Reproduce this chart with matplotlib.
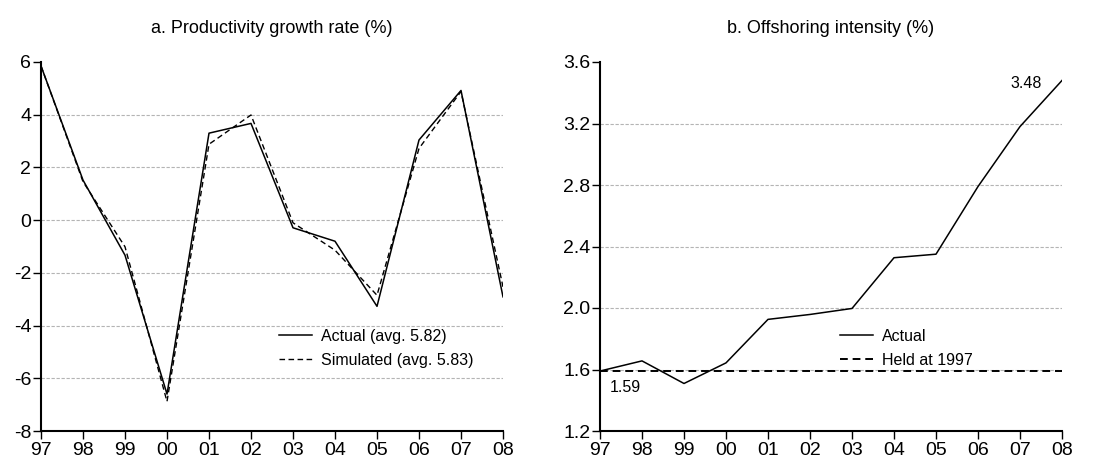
import numpy as np
from matplotlib import pyplot as plt

plt.rcParams['font.family'] = ['Liberation Sans', 'DejaVu Sans']

years = ['97', '98', '99', '00', '01', '02', '03', '04', '05', '06', '07', '08']

# panel a: productivity growth rate (%)
prod_actual = [5.85, 1.52, -1.33, -6.60, 3.30, 3.67, -0.29, -0.80, -3.27, 3.04, 4.92, -2.91]
prod_sim = [5.85, 1.46, -1.01, -6.88, 2.88, 3.99, -0.10, -1.14, -2.85, 2.72, 4.88, -2.53]

# panel b: offshoring intensity (%)
off_actual = [1.59, 1.656, 1.509, 1.643, 1.926, 1.958, 1.997, 2.327, 2.350, 2.790, 3.180, 3.48]
off_held = [1.59] * 12

x = np.arange(len(years))

fig = plt.figure(figsize=(11.03, 4.59), dpi=100)
ax1 = fig.add_axes([41/1103, 28/459, 462/1103, 369/459])
ax2 = fig.add_axes([600/1103, 28/459, 462/1103, 369/459])


def style_axis(ax, yticks, gridticks, ylim):
    ax.set_xlim(0, len(years) - 1)
    ax.set_ylim(*ylim)
    ax.set_xticks(x)
    ax.set_xticklabels(years)
    ax.set_yticks(yticks)
    for g in gridticks:
        ax.axhline(g, color='#b4b4b4', lw=0.8, ls=(0, (3, 1.5)), zorder=0)
    ax.spines['top'].set_visible(False)
    ax.spines['right'].set_visible(False)
    ax.spines['left'].set_linewidth(1.5)
    ax.spines['bottom'].set_linewidth(1.5)
    ax.tick_params(axis='both', direction='out', length=5.5, width=1, labelsize=14, colors='black')
    ax.tick_params(axis='x', pad=2.5)
    ax.tick_params(axis='y', pad=1.5)


legend_kw = dict(frameon=False, loc='upper left', fontsize=11.5, handlelength=2.1,
                 handletextpad=0.55, borderpad=0, borderaxespad=0, labelspacing=0.55)

ax1.plot(x, prod_actual, color='black', lw=1.1, label='Actual (avg. 5.82)')
ax1.plot(x, prod_sim, color='black', lw=1.0, ls=(0, (4, 2.5)), label='Simulated (avg. 5.83)')
style_axis(ax1, [-8, -6, -4, -2, 0, 2, 4, 6], [-6, -4, -2, 0, 2, 4], (-8, 6))
ax1.set_yticklabels(['-8', '-6', '-4', '-2', '0', '2', '4', '6'])
ax1.set_title('a. Productivity growth rate (%)', fontsize=13, pad=21)
ax1.legend(bbox_to_anchor=(0.515, 0.277), **legend_kw)

ax2.plot(x, off_actual, color='black', lw=1.1, label='Actual')
ax2.plot(x, off_held, color='black', lw=1.4, ls=(0, (4, 2.5)), label='Held at 1997')
style_axis(ax2, [1.2, 1.6, 2.0, 2.4, 2.8, 3.2, 3.6], [1.6, 2.0, 2.4, 2.8, 3.2], (1.2, 3.6))
ax2.set_yticklabels(['1.2', '1.6', '2.0', '2.4', '2.8', '3.2', '3.6'])
ax2.set_title('b. Offshoring intensity (%)', fontsize=13, pad=21)
ax2.legend(bbox_to_anchor=(0.519, 0.277), **legend_kw)
ax2.annotate('1.59', xy=(x[0], off_actual[0]), xytext=(7, -11.5), textcoords='offset points',
             fontsize=11.5, ha='left', va='center')
ax2.annotate('3.48', xy=(x[-1], off_actual[-1]), xytext=(-14.5, -2.5), textcoords='offset points',
             fontsize=11.5, ha='right', va='center')

fig.savefig('out.png', dpi=100)
